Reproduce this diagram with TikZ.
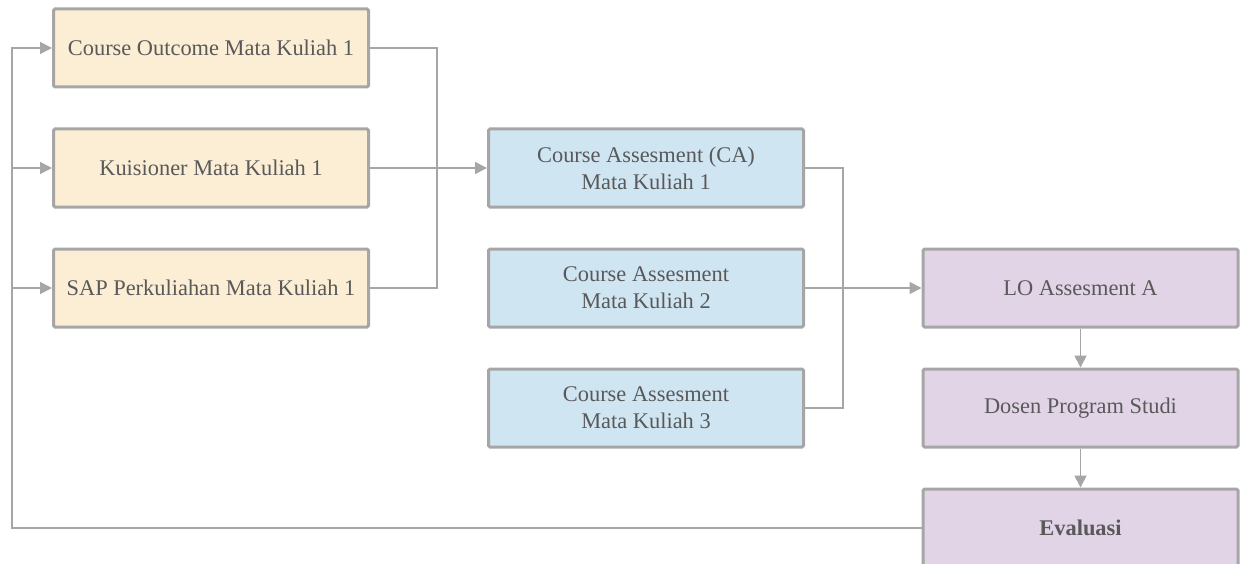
\documentclass[tikz,border=0pt]{standalone}
\usepackage{fontspec}
\setmainfont{Liberation Serif}
\usetikzlibrary{arrows.meta}
\definecolor{edgegray}{HTML}{A6A6A6}
\definecolor{txtgray}{HTML}{595959}
\definecolor{creamfill}{HTML}{FCEED4}
\definecolor{bluefill}{HTML}{D0E5F2}
\definecolor{lilacfill}{HTML}{E1D4E7}
\tikzset{
  box/.style={draw=edgegray, line width=3pt, rounded corners=1.5pt,
    minimum width=315pt, minimum height=78pt, inner sep=0pt,
    align=center, text=txtgray,
    font=\fontsize{22.4}{27}\selectfont},
  inbox/.style={box, fill=creamfill},
  cabox/.style={box, fill=bluefill},
  lobox/.style={box, fill=lilacfill},
  link/.style={draw=edgegray, line width=1.8pt},
  arr/.style={link, -{Triangle[length=12pt,width=12pt]}},
}
\begin{document}
\begin{tikzpicture}[x=1pt,y=-1pt]
\useasboundingbox (0,0) rectangle (1241,564);

% input column
\node[inbox] (co)  at (211,48)  {Course Outcome Mata Kuliah 1};
\node[inbox] (kui) at (211,168) {Kuisioner Mata Kuliah 1};
\node[inbox] (sap) at (211,288) {SAP Perkuliahan Mata Kuliah 1};

% course assessment column
\node[cabox] (ca1) at (646,168) {Course Assesment (CA)\\Mata Kuliah 1};
\node[cabox] (ca2) at (646,288) {Course Assesment\\Mata Kuliah 2};
\node[cabox] (ca3) at (646,408) {Course Assesment\\Mata Kuliah 3};

% learning outcome column
\node[lobox] (lo)  at (1080.5,288) {LO Assesment A};
\node[lobox] (dos) at (1080.5,408) {Dosen Program Studi};
\node[lobox] (eva) at (1080.5,528) {\textbf{Evaluasi}};

% merge points
\coordinate (m1) at (437,168);
\coordinate (m2) at (843,288);
\coordinate (fb) at (12,168);

% inputs into CA 1
\draw[link] (co.east) -| (m1);
\draw[link] (sap.east) -| (m1);
\draw[arr] (kui.east) -- (ca1.west);

% course assessments into LO
\draw[link] (ca1.east) -| (m2);
\draw[link] (ca3.east) -| (m2);
\draw[arr] (ca2.east) -- (lo.west);

% vertical chain
\draw[arr] (lo.south) -- (dos.north);
\draw[arr] (dos.south) -- (eva.north);

% feedback loop
\draw[link] (eva.west) -| (fb);
\draw[arr] (fb) |- (co.west);
\draw[arr] (fb) -- (kui.west);
\draw[arr] (fb) |- (sap.west);
\end{tikzpicture}
\end{document}
